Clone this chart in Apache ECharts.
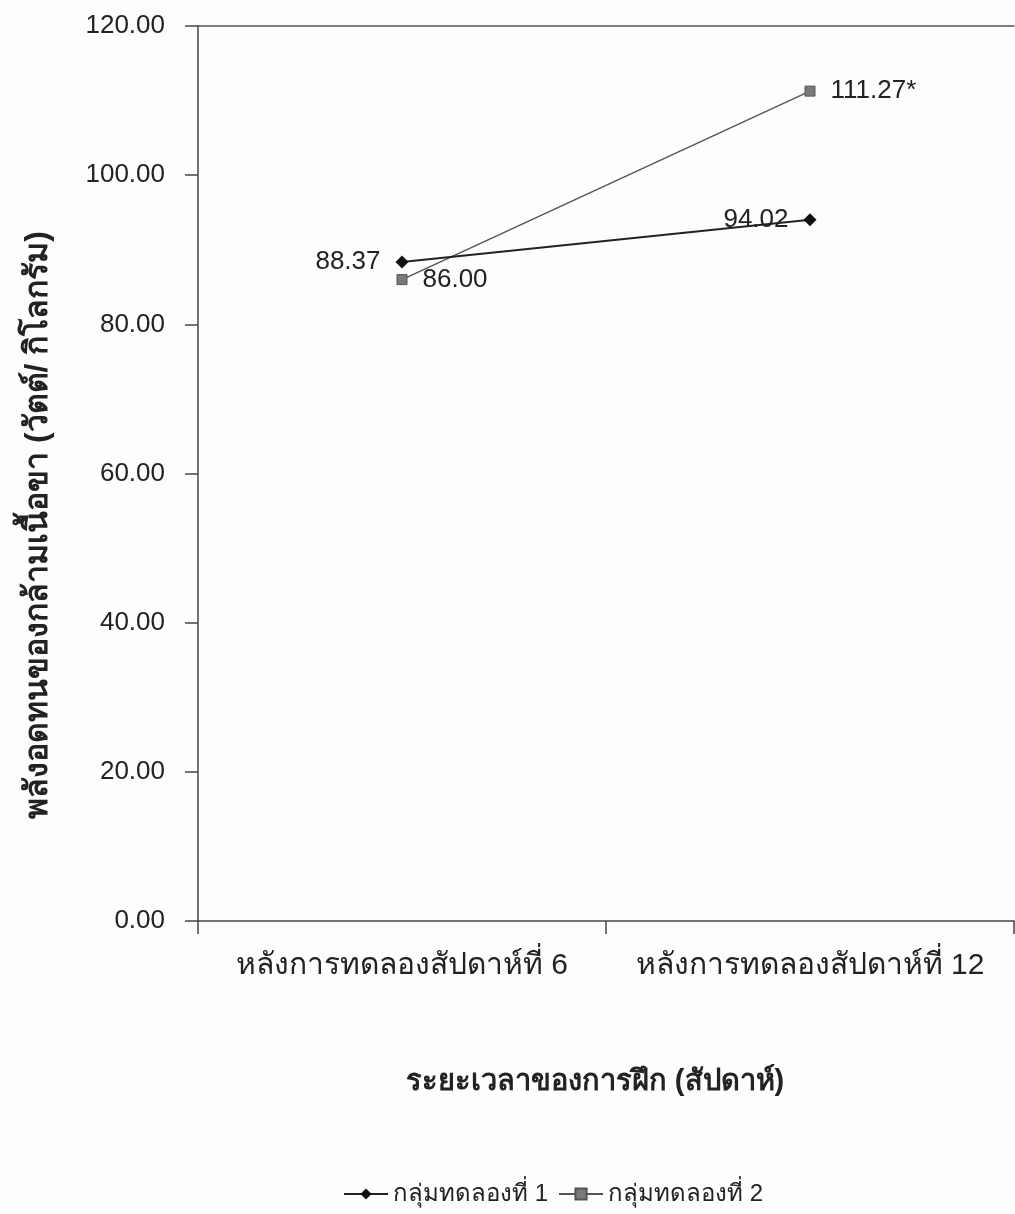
<!DOCTYPE html>
<html>
<head>
<meta charset="utf-8">
<script src="https://cdn.jsdelivr.net/npm/echarts@6/dist/echarts.min.js"></script>
<style>
  html, body { margin: 0; padding: 0; background: #fdfdfd; }
  #chart { width: 1015px; height: 1214px; }
</style>
</head>
<body>
<div id="chart"></div>
<script>
// Measurement periods (x categories)
const categories = ['หลังการทดลองสัปดาห์ที่ 6', 'หลังการทดลองสัปดาห์ที่ 12'];
// Leg muscular endurance power (W/kg) for each group
const group1 = [88.37, 94.02];
const group2 = [86.00, 111.27];
// Label text shown beside each point (group 2 week 12 flagged as significant)
const group1Labels = ['88.37', '94.02'];
const group2Labels = ['86.00', '111.27*'];
const seriesNames = ['กลุ่มทดลองที่ 1', 'กลุ่มทดลองที่ 2'];
// y-axis tick settings
const yMin = 0, yMax = 120, yStep = 20;

const FONT = '"Liberation Sans", Arial, "Noto Sans", sans-serif';
const chart = echarts.init(document.getElementById('chart'));

const option = {
  backgroundColor: '#fdfdfd',
  animation: false,
  textStyle: { fontFamily: FONT },
  grid: { left: 198, top: 26, right: 1, bottom: 293, containLabel: false },
  legend: {
    left: 338,
    top: 1177,
    itemWidth: 44,
    itemHeight: 14,
    itemGap: 10,
    textStyle: { fontFamily: FONT, fontSize: 24, color: '#222' },
    data: seriesNames
  },
  xAxis: [{
    type: 'category',
    data: categories,
    boundaryGap: true,
    axisLine: { lineStyle: { color: '#444', width: 1.5 } },
    axisTick: { show: true, interval: 0, length: 13, alignWithLabel: false, lineStyle: { color: '#444', width: 1.5 } },
    axisLabel: { interval: 0, hideOverlap: false, margin: 30, fontSize: 30, color: '#222', fontFamily: FONT },
    splitLine: { show: false }
  }, {
    // top border of the plot area
    type: 'category',
    position: 'top',
    data: categories,
    axisLine: { show: true, lineStyle: { color: '#555', width: 1.5 } },
    axisTick: { show: false },
    axisLabel: { show: false }
  }],
  yAxis: {
    type: 'value',
    min: yMin,
    max: yMax,
    interval: yStep,
    axisLine: { show: true, lineStyle: { color: '#444', width: 1.5 } },
    axisTick: { show: true, length: 13, inside: false, lineStyle: { color: '#444', width: 1.5 } },
    axisLabel: {
      margin: 33,
      fontSize: 26,
      color: '#222',
      fontFamily: FONT,
      formatter: v => v.toFixed(2)
    },
    splitLine: { show: false }
  },
  graphic: [
    {
      type: 'text',
      x: 38, y: 525,
      rotation: Math.PI / 2,
      style: {
        text: 'พลังอดทนของกล้ามเนื้อขา (วัตต์/ กิโลกรัม)',
        fontFamily: FONT,
        fontSize: 32,
        fontWeight: 'bold',
        fill: '#222',
        align: 'center',
        verticalAlign: 'middle'
      }
    },
    {
      type: 'text',
      x: 595, y: 1082,
      style: {
        text: 'ระยะเวลาของการฝึก (สัปดาห์)',
        fontFamily: FONT,
        fontSize: 29,
        fontWeight: 'bold',
        fill: '#222',
        align: 'center',
        verticalAlign: 'middle'
      }
    }
  ],
  series: [
    {
      name: seriesNames[0],
      type: 'line',
      data: group1,
      symbol: 'diamond',
      symbolSize: 13,
      itemStyle: { color: '#111' },
      lineStyle: { color: '#222', width: 2 },
      z: 3,
      label: {
        show: true,
        position: 'left',
        distance: 15,
        fontSize: 26,
        color: '#222',
        fontFamily: FONT,
        formatter: p => group1Labels[p.dataIndex]
      }
    },
    {
      name: seriesNames[1],
      type: 'line',
      data: group2,
      symbol: 'rect',
      symbolSize: 10,
      itemStyle: { color: '#7a7a7a', borderColor: '#555', borderWidth: 1 },
      lineStyle: { color: '#555', width: 1.5 },
      z: 2,
      label: {
        show: true,
        position: 'right',
        distance: 15,
        fontSize: 26,
        color: '#222',
        fontFamily: FONT,
        formatter: p => group2Labels[p.dataIndex]
      }
    }
  ]
};

chart.setOption(option);
</script>
</body>
</html>
